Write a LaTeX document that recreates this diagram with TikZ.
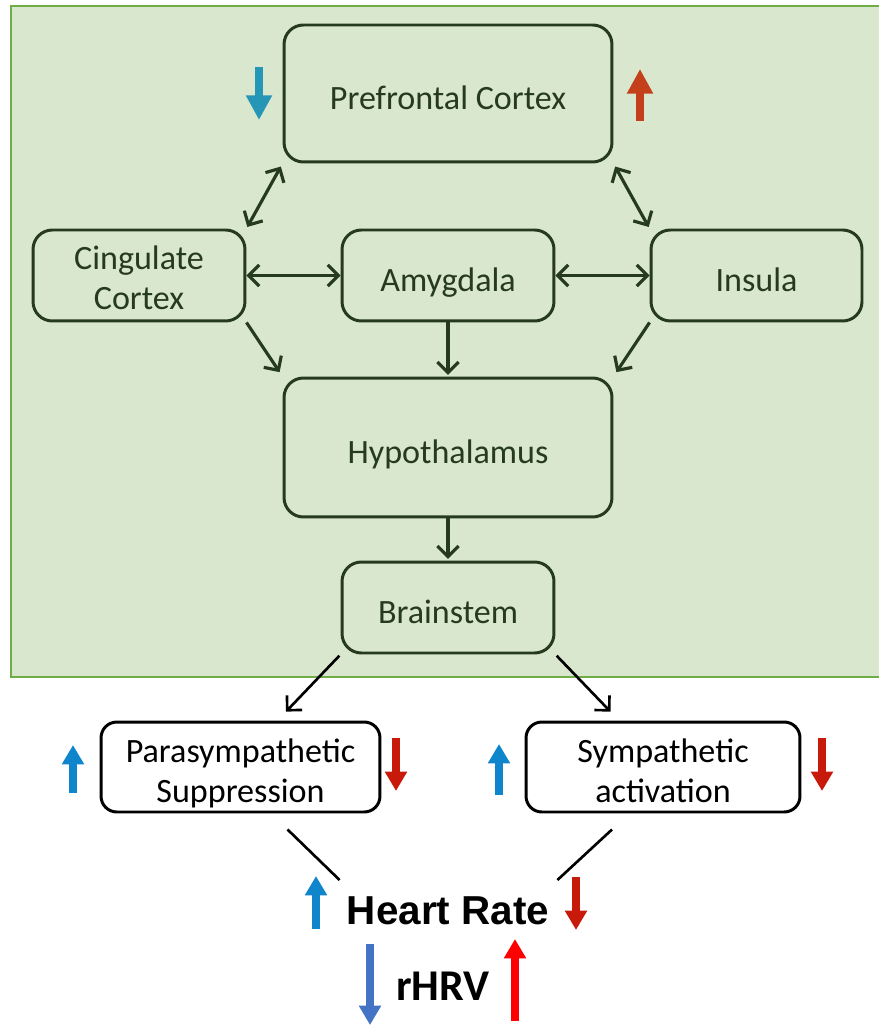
\documentclass[tikz,border=0pt]{standalone}
\usepackage{fontspec}
\setmainfont{Carlito}
\newfontfamily\arialfont{Liberation Sans}
\usetikzlibrary{arrows.meta}
\definecolor{bggreen}{HTML}{D8E7CD}
\definecolor{bordergreen}{HTML}{70AD47}
\definecolor{boxline}{HTML}{253A20}
\definecolor{tealarrow}{HTML}{2596B5}
\definecolor{rustarrow}{HTML}{C4401A}
\definecolor{bluearrow}{HTML}{0F86CC}
\definecolor{redarrow}{HTML}{C81A0A}
\definecolor{steelarrow}{HTML}{4472C4}
\definecolor{brightred}{HTML}{FF0000}
\tikzset{
  x=0.02cm, y=-0.02cm,
  region/.style={draw=boxline, line width=1.7pt, rounded corners=11pt, align=center,
    text=boxline, font=\fontsize{19.4}{22.5}\selectfont, inner sep=0pt},
  oneline/.style={text height=18.5pt, text depth=0pt},
  outbox/.style={draw=black, fill=white, line width=1.7pt, rounded corners=9pt, align=center,
    text=black, font=\fontsize{19.4}{22.5}\selectfont, inner sep=0pt},
  conn/.style={draw=boxline, line width=1.8pt, -{Straight Barb[length=6pt,width=12pt,line width=1.8pt]}},
  dconn/.style={draw=boxline, line width=1.8pt, {Straight Barb[length=6pt,width=12pt,line width=1.8pt]}-{Straight Barb[length=6pt,width=12pt,line width=1.8pt]}},
  bconn/.style={draw=black, line width=1.5pt, -{Straight Barb[length=6pt,width=12pt,line width=1.5pt]}},
  bigarrow/.style={line width=4.6pt, -{Triangle[length=14pt,width=14pt]}},
  smallarrow/.style={line width=4.2pt, -{Triangle[length=11pt,width=12pt]}},
}
\begin{document}
\begin{tikzpicture}
\useasboundingbox (0,0) rectangle (878,1026);
\fill[white] (0,0) rectangle (878,1026);
\draw[fill=bggreen, draw=bordergreen, line width=1.6pt] (11,6) rectangle (900,677);

\node[region, oneline, minimum width=6.56cm, minimum height=2.74cm] (pfc) at (448,93.5) {Prefrontal Cortex};
\node[region, minimum width=4.24cm, minimum height=1.82cm] (cc) at (139,275.5) {\rule{0pt}{16.3pt}Cingulate\\Cortex};
\node[region, oneline, minimum width=4.24cm, minimum height=1.82cm] (amy) at (448,275.5) {Amygdala};
\node[region, oneline, minimum width=4.22cm, minimum height=1.82cm] (ins) at (756.5,275.5) {Insula};
\node[region, oneline, minimum width=6.56cm, minimum height=2.78cm] (hyp) at (448,447.5) {Hypothalamus};
\node[region, oneline, minimum width=4.24cm, minimum height=1.82cm] (bs) at (448,607.5) {Brainstem};

\node[outbox, minimum width=5.58cm, minimum height=1.8cm] (para) at (240.5,767) {\rule{0pt}{21pt}Parasympathetic\\Suppression};
\node[outbox, minimum width=5.48cm, minimum height=1.8cm] (symp) at (663,767) {\rule{0pt}{18pt}Sympathetic\\activation};

\node[font=\arialfont\bfseries\fontsize{23}{26}\selectfont, inner sep=0pt] (hr) at (448,911) {Heart Rate};
\node[font=\bfseries\fontsize{25}{28}\selectfont, inner sep=0pt] (rhrv) at (443,986) {rHRV};

% connectors
\draw[dconn, shorten <=2pt, shorten >=1pt] (pfc.south west) -- (cc.north east);
\draw[dconn, shorten <=2pt, shorten >=1pt] (pfc.south east) -- (ins.north west);
\draw[dconn] (cc.east) -- (amy.west);
\draw[dconn] (amy.east) -- (ins.west);
\draw[conn, shorten >=3pt] (cc.south east) -- (hyp.north west);
\draw[conn, shorten >=1pt] (amy.south) -- (hyp.north);
\draw[conn, shorten >=3pt] (ins.south west) -- (hyp.north east);
\draw[conn, shorten >=1pt] (hyp.south) -- (bs.north);
\draw[bconn, shorten <=1pt, shorten >=7pt] (bs.south west) -- ([xshift=0.74cm]para.north);
\draw[bconn, shorten <=1pt, shorten >=7pt] (bs.south east) -- ([xshift=-0.88cm]symp.north);

% lines to heart rate
\draw[black, line width=1.5pt] ([shift={(47,16)}]para.south) -- ([shift={(-7,-31)}]hr.west);
\draw[black, line width=1.5pt] ([shift={(-51,16)}]symp.south) -- ([shift={(8,-31)}]hr.east);

% indicator arrows
\coordinate (t1a) at (259,67); \coordinate (t1b) at (259,120);
\draw[tealarrow, bigarrow] (t1a) -- (t1b);
\coordinate (t2a) at (640,121); \coordinate (t2b) at (640,69);
\draw[rustarrow, bigarrow] (t2a) -- (t2b);

\coordinate (p1a) at (73,793); \coordinate (p1b) at (73,745);
\draw[bluearrow, smallarrow] (p1a) -- (p1b);
\coordinate (p2a) at (396,738); \coordinate (p2b) at (396,791);
\draw[redarrow, smallarrow] (p2a) -- (p2b);
\coordinate (s1a) at (499,795); \coordinate (s1b) at (499,744);
\draw[bluearrow, smallarrow] (s1a) -- (s1b);
\coordinate (s2a) at (822,738); \coordinate (s2b) at (822,791);
\draw[redarrow, smallarrow] (s2a) -- (s2b);

\coordinate (h1a) at (316,929); \coordinate (h1b) at (316,876);
\draw[bluearrow, smallarrow] (h1a) -- (h1b);
\coordinate (h2a) at (576,877); \coordinate (h2b) at (576,930);
\draw[redarrow, smallarrow] (h2a) -- (h2b);

\coordinate (r1a) at (370,944); \coordinate (r1b) at (370,1025);
\draw[steelarrow, smallarrow] (r1a) -- (r1b);
\coordinate (r2a) at (515,1021); \coordinate (r2b) at (515,939);
\draw[brightred, smallarrow] (r2a) -- (r2b);
\end{tikzpicture}
\end{document}
